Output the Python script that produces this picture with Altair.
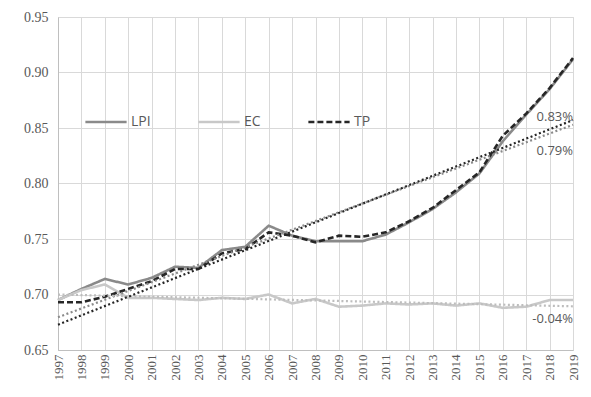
import altair as alt
import pandas as pd

years = list(range(1997, 2020))
lpi = [0.695, 0.705, 0.714, 0.709, 0.715, 0.725, 0.724, 0.740, 0.743, 0.762, 0.753, 0.748,
       0.748, 0.748, 0.754, 0.765, 0.777, 0.792, 0.809, 0.838, 0.862, 0.885, 0.912]
ec = [0.695, 0.704, 0.709, 0.697, 0.697, 0.696, 0.695, 0.697, 0.696, 0.700, 0.692, 0.696,
      0.689, 0.690, 0.692, 0.691, 0.692, 0.690, 0.692, 0.688, 0.689, 0.695, 0.695]
tp = [0.693, 0.693, 0.698, 0.705, 0.712, 0.723, 0.723, 0.737, 0.741, 0.756, 0.753, 0.747,
      0.753, 0.752, 0.756, 0.766, 0.778, 0.794, 0.810, 0.843, 0.863, 0.886, 0.913]

series_names = ["LPI", "EC", "TP"]
line_colors = ["#8a8a8a", "#c8c8c8", "#262626"]
trend_colors = ["#8a8a8a", "#bdbdbd", "#262626"]

ann_text = ["0.83%", "0.79%", "-0.04%"]
ann_year = [2019, 2019, 2019]
ann_value = [0.8595, 0.8295, 0.6775]

rows = []
for name, vals in zip(series_names, [lpi, ec, tp]):
    for y, v in zip(years, vals):
        rows.append({"year": y, "value": v, "series": name})
df = pd.DataFrame(rows)
ann = pd.DataFrame({"year": ann_year, "value": ann_value, "text": ann_text})

SERIF = "Liberation Serif"

xs = alt.X("year:Q", scale=alt.Scale(domain=[1997, 2019], nice=False, zero=False),
           axis=alt.Axis(values=years, format="d", labelAngle=270, title=None,
                         labelOverlap=False, labelFontSize=13))
ys = alt.Y("value:Q", scale=alt.Scale(domain=[0.65, 0.95], nice=False, zero=False),
           axis=alt.Axis(values=[0.65, 0.70, 0.75, 0.80, 0.85, 0.90, 0.95], format=".2f",
                         title=None, labelFontSize=14, labelPadding=10))

leg = alt.Legend(title=None, orient="none", direction="horizontal",
                 legendX=26, legendY=83)

lines = alt.Chart(df).mark_line(strokeWidth=2.6).encode(
    x=xs, y=ys,
    color=alt.Color("series:N", sort=series_names,
                    scale=alt.Scale(domain=series_names, range=line_colors),
                    legend=leg),
    strokeDash=alt.StrokeDash("series:N", sort=series_names,
                              scale=alt.Scale(domain=series_names,
                                              range=[[1, 0], [1, 0], [6, 3]]),
                              legend=leg),
    order=alt.Order("year:Q"),
)

trends = alt.Chart(df).transform_regression(
    "year", "value", groupby=["series"], extent=[1997, 2019]
).mark_line(strokeWidth=2.2, strokeDash=[2, 2.5]).encode(
    x=xs, y=ys,
    stroke=alt.Stroke("series:N", scale=alt.Scale(domain=series_names, range=trend_colors),
                      legend=None),
)

labels = alt.Chart(ann).mark_text(align="right", baseline="middle", font="Open Sans",
                                  fontSize=13, color="#595959").encode(
    x=xs, y=ys, text="text:N")

chart = alt.layer(lines, trends, labels).properties(
    width=515, height=333,
    autosize=alt.AutoSizeParams(type="none"),
    padding={"left": 50, "top": 9, "right": 10, "bottom": 40},
).configure(font=SERIF).configure_view(stroke="#d9d9d9").configure_axis(
    gridWidth=1, gridColor="#d9d9d9", domainColor="#bfbfbf", ticks=False,
    labelFont=SERIF, labelColor="#595959", labelPadding=4,
).configure_legend(
    symbolType="stroke", symbolSize=1700, symbolStrokeWidth=2.6,
    labelFont="Open Sans", labelFontSize=14, labelColor="#595959",
    columnPadding=42, labelOffset=3,
)

chart.save("out.html", embed_options={"renderer": "svg", "actions": False})
